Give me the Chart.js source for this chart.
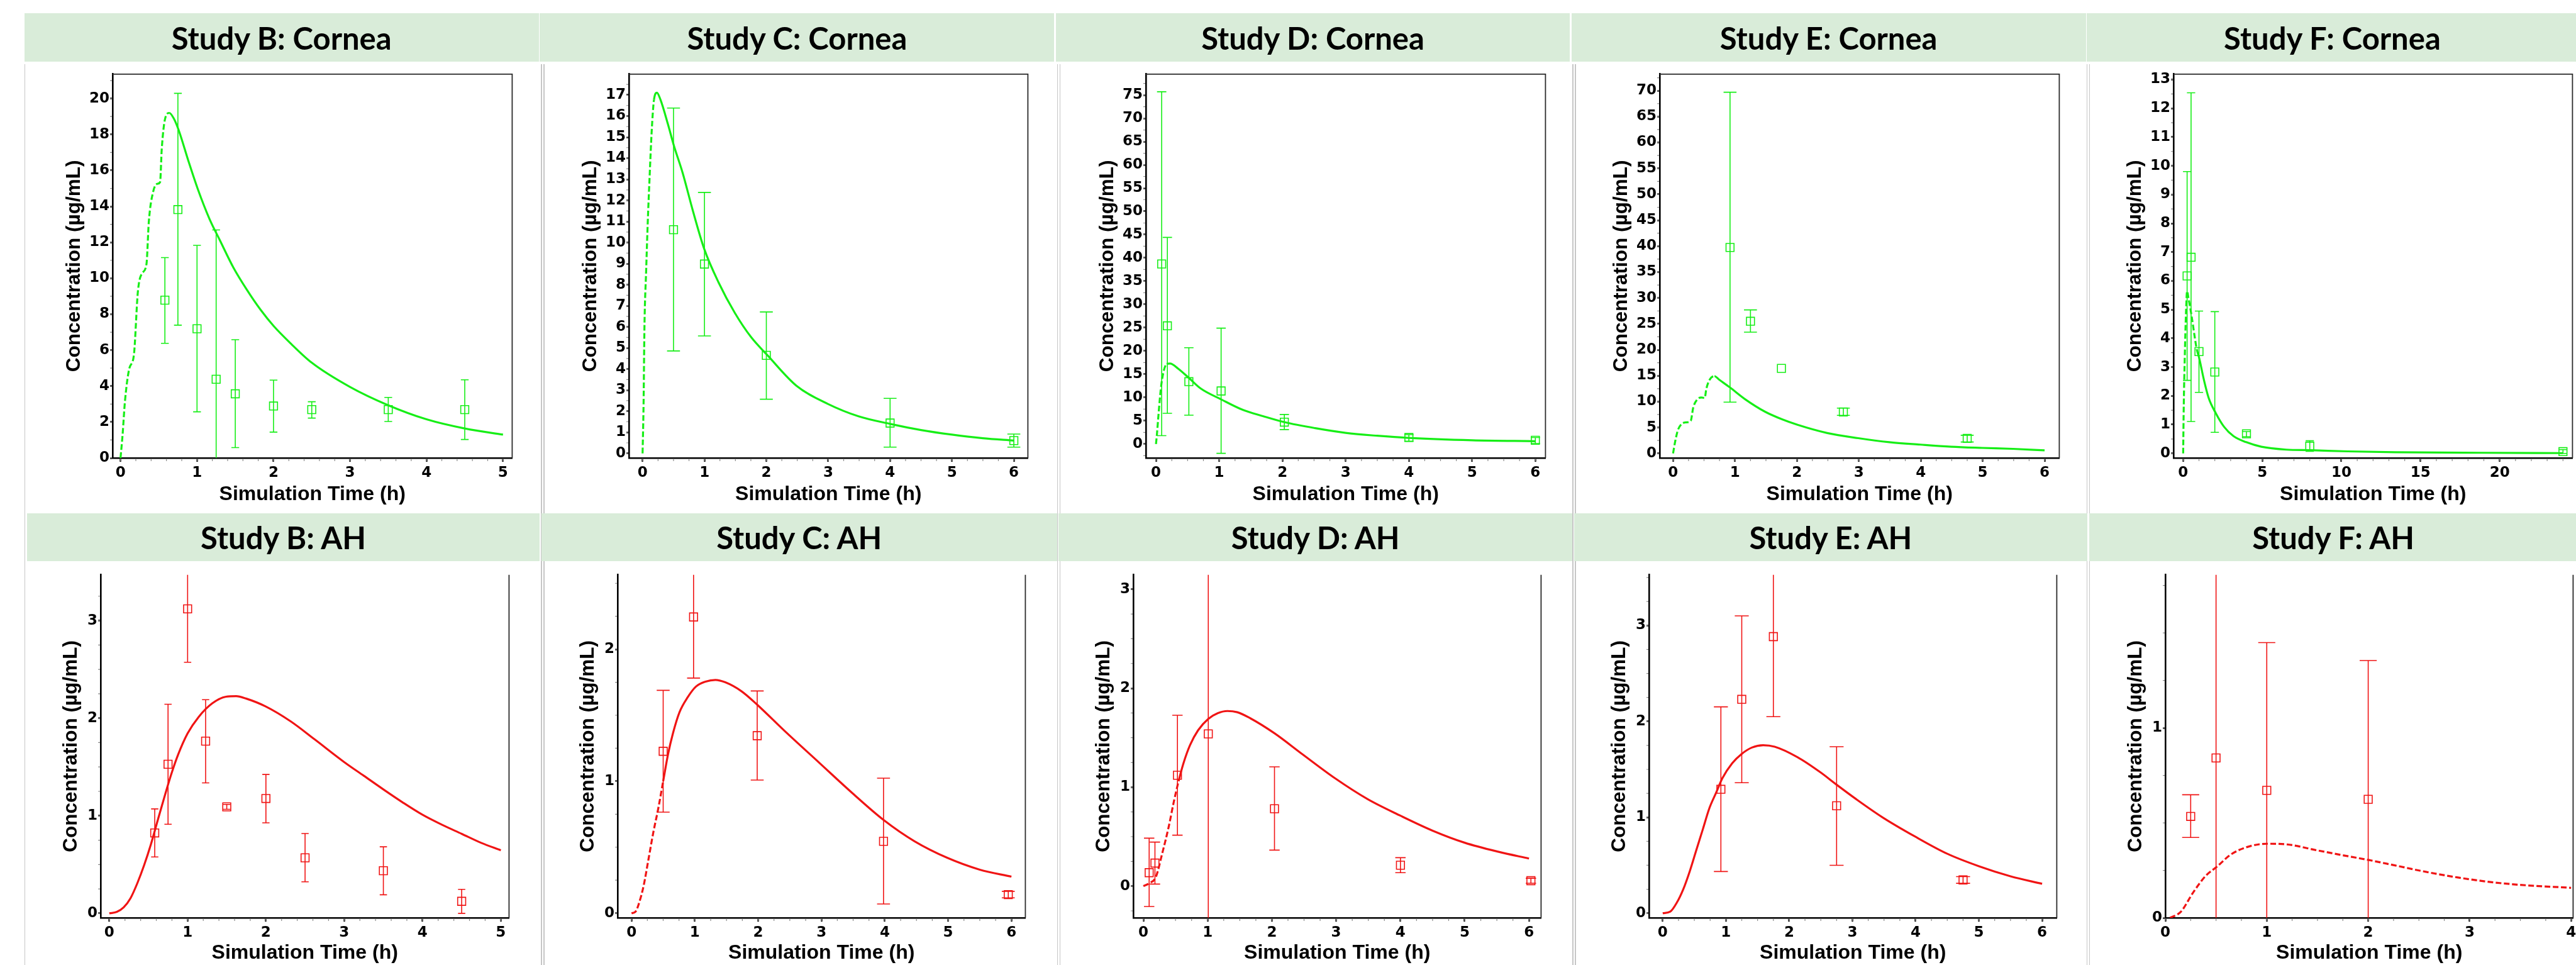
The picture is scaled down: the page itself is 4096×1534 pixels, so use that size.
<!DOCTYPE html>
<html>
<head>
<meta charset="utf-8">
<script src="https://cdn.jsdelivr.net/npm/chart.js@4.4.0/dist/chart.umd.min.js"></script>
<style>
  html, body { margin: 0; padding: 0; background: #fff; overflow: hidden; width: 4096px; height: 1534px; position: relative; }
  .banner { position: absolute; background: #d9ecd9; display: flex; align-items: center; justify-content: center;
            font-family: Lato, 'Open Sans', sans-serif; font-weight: 700; font-size: 49px; color: #000; z-index: 3; }
  .sep { position: absolute; width: 1.6px; background: #c6c6c6; z-index: 1; }
  canvas { position: absolute; z-index: 2; }
</style>
</head>
<body>
<script>
// ---------- data ----------
// tick labels
const hours5 = [0, 1, 2, 3, 4, 5];
const hours6 = [0, 1, 2, 3, 4, 5, 6];
const hours24 = [0, 5, 10, 15, 20];
const hours4 = [0, 1, 2, 3, 4];
const bCorYT = [0, 2, 4, 6, 8, 10, 12, 14, 16, 18, 20];
const cCorYT = [0, 1, 2, 3, 4, 5, 6, 7, 8, 9, 10, 11, 12, 13, 14, 15, 16, 17];
const dCorYT = [0, 5, 10, 15, 20, 25, 30, 35, 40, 45, 50, 55, 60, 65, 70, 75];
const eCorYT = [0, 5, 10, 15, 20, 25, 30, 35, 40, 45, 50, 55, 60, 65, 70];
const fCorYT = [0, 1, 2, 3, 4, 5, 6, 7, 8, 9, 10, 11, 12, 13];
const ahYT3 = [0, 1, 2, 3];
const ahYT2 = [0, 1, 2];
const ahYT1 = [0, 1];

// Study B cornea
const bCorT = [0.58, 0.75, 1.0, 1.25, 1.5, 2.0, 2.5, 3.5, 4.5];
const bCorC = [8.78, 13.82, 7.19, 4.38, 3.57, 2.89, 2.69, 2.69, 2.69];
const bCorLo = [6.38, 7.39, 2.57, -0.5, 0.58, 1.44, 2.22, 2.03, 1.03];
const bCorHi = [11.15, 20.29, 11.83, 12.69, 6.58, 4.33, 3.13, 3.37, 4.35];
const bCorSimT = [0, 0.027, 0.058, 0.116, 0.174, 0.227, 0.28, 0.339, 0.37, 0.428, 0.486, 0.517, 0.539, 0.584, 0.637, 0.695, 0.762, 0.887, 1.007, 1.163, 1.297, 1.475, 1.653, 1.83, 2.0, 2.23, 2.5, 3.0, 3.49, 4.0, 4.5, 5.0];
const bCorSimC = [0, 1.3, 3.16, 5.0, 5.7, 9.26, 10.27, 10.78, 13.15, 14.84, 15.26, 15.35, 17.2, 18.9, 19.2, 18.9, 18.22, 16.53, 15.0, 13.3, 12.13, 10.6, 9.35, 8.25, 7.35, 6.35, 5.3, 3.95, 2.95, 2.15, 1.64, 1.3];

// Study C cornea
const cCorT = [0.5, 1, 2, 4, 6];
const cCorC = [10.61, 8.98, 4.65, 1.44, 0.61];
const cCorLo = [4.86, 5.57, 2.57, 0.3, 0.3];
const cCorHi = [16.38, 12.38, 6.71, 2.61, 0.92];
const cCorSimT = [0, 0.016, 0.03, 0.058, 0.084, 0.11, 0.148, 0.184, 0.232, 0.29, 0.41, 0.506, 0.648, 0.807, 0.996, 1.228, 1.49, 1.755, 2.02, 2.49, 3.0, 3.49, 4.0, 4.5, 5.0, 5.5, 6.0];
const cCorSimC = [0, 2.34, 5.95, 8.69, 11.0, 12.87, 15.32, 16.77, 17.11, 16.77, 15.61, 14.6, 13.3, 11.57, 9.7, 8.11, 6.67, 5.51, 4.65, 3.2, 2.34, 1.76, 1.4, 1.11, 0.89, 0.72, 0.61];

// Study D cornea
const dCorT = [0.09, 0.18, 0.52, 1.03, 2.03, 4.0, 6.0];
const dCorC = [38.7, 25.4, 13.4, 11.4, 4.7, 1.4, 0.8];
const dCorLo = [1.8, 6.6, 6.2, -2.0, 3.1, 0.6, 0.1];
const dCorHi = [75.7, 44.4, 20.7, 24.9, 6.35, 2.0, 1.4];
const dCorSimT = [0, 0.015, 0.04, 0.077, 0.119, 0.17, 0.222, 0.35, 0.52, 0.71, 1.03, 1.38, 1.69, 2.03, 2.52, 3.0, 3.5, 4.0, 5.0, 6.0];
const dCorSimC = [0, 2.1, 6.35, 11.9, 15.5, 17.2, 17.3, 16.2, 14.2, 11.9, 9.6, 7.3, 6.0, 4.7, 3.4, 2.4, 1.77, 1.3, 0.8, 0.6];

// Study E cornea
const eCorT = [0.92, 1.25, 1.75, 2.75, 4.75];
const eCorC = [39.75, 25.5, 16.4, 8.0, 2.9];
const eCorLo = [9.9, 23.4, null, 7.34, 2.2];
const eCorHi = [69.7, 27.7, null, 8.75, 3.5];
const eCorSimT = [0, 0.037, 0.079, 0.142, 0.221, 0.285, 0.327, 0.39, 0.458, 0.511, 0.537, 0.59, 0.669, 0.748, 0.917, 1.17, 1.486, 1.76, 2.01, 2.49, 2.99, 3.49, 3.99, 4.49, 4.99, 5.49, 6.0];
const eCorSimC = [0, 2.47, 4.52, 5.7, 6.0, 6.28, 8.9, 10.4, 10.8, 10.7, 12.45, 14.2, 14.9, 14.2, 12.74, 10.4, 8.04, 6.58, 5.52, 3.93, 2.94, 2.17, 1.7, 1.29, 1.06, 0.88, 0.59];

// Study F cornea
const fCorT = [0.25, 0.5, 1, 2, 4, 8, 24];
const fCorC = [6.17, 6.82, 3.54, 2.83, 0.68, 0.25, 0.06];
const fCorLo = [2.54, 1.11, 2.12, 0.73, 0.58, 0.07, 0.0];
const fCorHi = [9.8, 12.54, 4.95, 4.93, 0.76, 0.44, 0.13];
const fCorSimT = [0, 0.04, 0.1, 0.18, 0.25, 0.33, 0.53, 0.73, 0.86, 1.02, 1.31, 1.61, 2.06, 2.59, 3.18, 3.98, 4.94, 6.51, 8.04, 10.4, 13.4, 18.9, 24];
const fCorSimC = [0, 1.72, 3.3, 4.9, 5.64, 5.42, 4.79, 4.05, 3.62, 3.3, 2.56, 1.93, 1.4, 0.92, 0.6, 0.39, 0.23, 0.13, 0.11, 0.07, 0.04, 0.02, 0.01];

// Study B aqueous humor
const bAhT = [0.58, 0.75, 1.0, 1.23, 1.5, 2.0, 2.5, 3.5, 4.5];
const bAhC = [0.824, 1.528, 3.12, 1.765, 1.091, 1.177, 0.569, 0.437, 0.123];
const bAhLo = [0.578, 0.913, 2.573, 1.337, 1.066, 0.928, 0.323, 0.19, 0.0];
const bAhHi = [1.07, 2.143, 3.8, 2.19, 1.116, 1.423, 0.818, 0.682, 0.246];
const bAhSimT = [0, 0.096, 0.183, 0.27, 0.357, 0.444, 0.531, 0.618, 0.706, 0.793, 0.88, 1.0, 1.141, 1.315, 1.49, 1.62, 1.751, 1.995, 2.317, 2.622, 3.0, 3.25, 3.5, 3.75, 4.0, 4.25, 4.5, 4.75, 5.0];
const bAhSimC = [0, 0.015, 0.061, 0.154, 0.307, 0.492, 0.707, 0.953, 1.199, 1.43, 1.629, 1.844, 2.013, 2.152, 2.22, 2.226, 2.2, 2.121, 1.967, 1.783, 1.55, 1.41, 1.27, 1.135, 1.01, 0.907, 0.815, 0.722, 0.646];

// Study C aqueous humor
const cAhT = [0.5, 0.98, 1.985, 3.98, 5.95];
const cAhC = [1.227, 2.245, 1.345, 0.545, 0.141];
const cAhLo = [0.766, 1.782, 1.009, 0.07, 0.116];
const cAhHi = [1.689, 2.7, 1.684, 1.023, 0.166];
const cAhSimT = [0, 0.062, 0.113, 0.19, 0.268, 0.345, 0.423, 0.5, 0.577, 0.655, 0.758, 0.887, 1.015, 1.17, 1.325, 1.48, 1.737, 1.985, 2.407, 2.974, 3.49, 3.985, 4.47, 4.985, 5.5, 6.0];
const cAhSimC = [0, 0.011, 0.068, 0.205, 0.409, 0.614, 0.795, 1.0, 1.205, 1.364, 1.523, 1.636, 1.716, 1.755, 1.768, 1.75, 1.682, 1.58, 1.386, 1.136, 0.909, 0.705, 0.545, 0.42, 0.33, 0.277];

// Study D aqueous humor
const dAhT = [0.09, 0.18, 0.53, 1.01, 2.04, 4.0, 6.03];
const dAhC = [0.136, 0.233, 1.121, 1.539, 0.782, 0.212, 0.055];
const dAhLo = [-0.206, 0.021, 0.515, -0.5, 0.364, 0.136, 0.03];
const dAhHi = [0.485, 0.445, 1.727, 3.4, 1.206, 0.288, 0.08];
const dAhSimT = [0, 0.091, 0.193, 0.294, 0.396, 0.472, 0.548, 0.624, 0.725, 0.852, 1.01, 1.156, 1.308, 1.46, 1.663, 2.04, 2.475, 2.98, 3.49, 4.0, 4.5, 5.0, 5.52, 6.0];
const dAhSimC = [0, 0.03, 0.091, 0.333, 0.606, 0.848, 1.061, 1.242, 1.424, 1.576, 1.691, 1.748, 1.77, 1.758, 1.697, 1.545, 1.333, 1.091, 0.879, 0.712, 0.561, 0.439, 0.348, 0.279];

// Study E aqueous humor
const eAhT = [0.92, 1.25, 1.75, 2.75, 4.75];
const eAhC = [1.292, 2.23, 2.884, 1.12, 0.347];
const eAhLo = [0.435, 1.361, 2.049, 0.5, 0.312];
const eAhHi = [2.152, 3.1, 3.8, 1.736, 0.382];
const eAhSimT = [0, 0.119, 0.222, 0.325, 0.428, 0.531, 0.635, 0.738, 0.841, 0.944, 1.099, 1.243, 1.409, 1.589, 1.77, 2.131, 2.492, 2.74, 3.06, 3.473, 3.989, 4.5, 5.0, 5.5, 6.0];
const eAhSimC = [0, 0.016, 0.109, 0.25, 0.438, 0.657, 0.876, 1.095, 1.251, 1.408, 1.564, 1.658, 1.727, 1.752, 1.736, 1.627, 1.47, 1.345, 1.189, 1.001, 0.8, 0.62, 0.49, 0.385, 0.307];

// Study F aqueous humor
const fAhT = [0.25, 0.5, 1, 2];
const fAhC = [0.534, 0.842, 0.671, 0.624];
const fAhLo = [0.423, -0.05, -0.05, -0.05];
const fAhHi = [0.648, 2.0, 1.449, 1.355];
const fAhSimT = [0.046, 0.153, 0.275, 0.398, 0.508, 0.642, 0.795, 1.0, 1.19, 1.5, 1.804, 2.0, 2.263, 2.569, 2.875, 3.18, 3.486, 4.0];
const fAhSimC = [0, 0.032, 0.134, 0.221, 0.269, 0.332, 0.371, 0.39, 0.387, 0.355, 0.324, 0.305, 0.276, 0.242, 0.213, 0.19, 0.174, 0.158];

// ---------- layout (reference pixels, scaled by S) ----------
const S = 0.823;
const GREEN = '#16ee16';
const RED = '#f01414';
const ROWS = [
  { top: 129, bottom: 885, yW: 80, xH: 77, padT: 3, frameTop: true },
  { top: 1092, bottom: 1773, yW: 66, xH: 75, padT: 0, frameTop: false }
];
const BANNERS = [
  { y: [26, 119], x: [[47, 1041], [1043, 2037], [2040, 3033], [3036, 4030], [4032, 4980]] },
  { y: [991, 1084], x: [[52, 1043], [1046, 2042], [2045, 3038], [3041, 4033], [4036, 4980]] }
];
const SEPS = [47, 1045, 1050, 2042, 2047, 3038, 3043, 4031, 4036];

const panels = [
  { title: 'Study B: Cornea', row: 0, fl: 217, fr: 998, xr: [-0.104, 5.12], yr: [0, 21.36], xt: hours5, yt: bCorYT, mx: 0.2, my: 1, cap: 7.5, color: GREEN, dash: 0.64, obs: [bCorT, bCorC, bCorLo, bCorHi], sim: [bCorSimT, bCorSimC] },
  { title: 'Study C: Cornea', row: 0, fl: 1215, fr: 1995, xr: [-0.221, 6.227], yr: [-0.216, 17.99], xt: hours6, yt: cCorYT, mx: 0.25, my: 0.5, cap: 12.5, color: GREEN, dash: 0.23, obs: [cCorT, cCorC, cCorLo, cCorHi], sim: [cCorSimT, cCorSimC] },
  { title: 'Study D: Cornea', row: 0, fl: 2214, fr: 2995, xr: [-0.16, 6.16], yr: [-3.0, 79.5], xt: hours6, yt: dCorYT, mx: 0.25, my: 2.5, cap: 9, color: GREEN, dash: 0.2, obs: [dCorT, dCorC, dCorLo, dCorHi], sim: [dCorSimT, dCorSimC] },
  { title: 'Study E: Cornea', row: 0, fl: 3207, fr: 3988, xr: [-0.216, 6.237], yr: [-0.88, 73.2], xt: hours6, yt: eCorYT, mx: 0.25, my: 2.5, cap: 12.5, color: GREEN, dash: 0.67, obs: [eCorT, eCorC, eCorLo, eCorHi], sim: [eCorSimT, eCorSimC] },
  { title: 'Study F: Cornea', row: 0, fl: 4199, fr: 4979, xr: [-0.61, 24.6], yr: [-0.16, 13.19], xt: hours24, yt: fCorYT, mx: 1, my: 0.5, cap: 8, color: GREEN, dash: 0.9, obs: [fCorT, fCorC, fCorLo, fCorHi], sim: [fCorSimT, fCorSimC] },
  { title: 'Study B: AH', row: 1, fl: 195, fr: 993, xr: [-0.111, 5.105], yr: [-0.046, 3.469], xt: hours5, yt: ahYT3, mx: 0.2, my: 0.25, cap: 7, color: RED, dash: -1, obs: [bAhT, bAhC, bAhLo, bAhHi], sim: [bAhSimT, bAhSimC] },
  { title: 'Study C: AH', row: 1, fl: 1193, fr: 1990, xr: [-0.22, 6.22], yr: [-0.035, 2.564], xt: hours6, yt: ahYT2, mx: 0.25, my: 0.25, cap: 12.5, color: RED, dash: 0.55, obs: [cAhT, cAhC, cAhLo, cAhHi], sim: [cAhSimT, cAhSimC] },
  { title: 'Study D: AH', row: 1, fl: 2189, fr: 2986, xr: [-0.157, 6.188], yr: [-0.32, 3.146], xt: hours6, yt: ahYT3, mx: 0.25, my: 0.25, cap: 10, color: RED, dash: 0.55, obs: [dAhT, dAhC, dAhLo, dAhHi], sim: [dAhSimT, dAhSimC] },
  { title: 'Study E: AH', row: 1, fl: 3186, fr: 3983, xr: [-0.217, 6.232], yr: [-0.048, 3.528], xt: hours6, yt: ahYT3, mx: 0.25, my: 0.25, cap: 13.5, color: RED, dash: -1, obs: [eAhT, eAhC, eAhLo, eAhHi], sim: [eAhSimT, eAhSimC] },
  { title: 'Study F: AH', row: 1, fl: 4183, fr: 4980, xr: [0, 4.02], yr: [0, 1.806], xt: hours4, yt: ahYT1, mx: 0.25, my: 0.25, cap: 16.5, color: RED, dash: 99, obs: [fAhT, fAhC, fAhLo, fAhHi], sim: [fAhSimT, fAhSimC] }
];

// ---------- plugins ----------
const errorBars = {
  id: 'errorBars',
  afterDatasetsDraw(chart, args, o) {
    const ds = chart.data.datasets[1];
    const xs = chart.scales.x, ys = chart.scales.y, a = chart.chartArea, ctx = chart.ctx;
    ctx.save();
    ctx.beginPath();
    ctx.rect(a.left, a.top, a.right - a.left, a.bottom - a.top);
    ctx.clip();
    ctx.strokeStyle = ds.pointBorderColor;
    ctx.lineWidth = 1.6;
    ds.data.forEach(p => {
      if (p.lo == null) return;
      const x = xs.getPixelForValue(p.x);
      const t = ys.getPixelForValue(p.hi), b = ys.getPixelForValue(p.lo);
      ctx.beginPath();
      ctx.moveTo(x, t); ctx.lineTo(x, b);
      ctx.moveTo(x - o.cap, t); ctx.lineTo(x + o.cap, t);
      ctx.moveTo(x - o.cap, b); ctx.lineTo(x + o.cap, b);
      ctx.stroke();
    });
    ctx.restore();
  }
};

const frame = {
  id: 'frame',
  afterDraw(chart, args, o) {
    const a = chart.chartArea, ctx = chart.ctx;
    const xs = chart.scales.x, ys = chart.scales.y;
    ctx.save();
    // minor ticks
    ctx.strokeStyle = '#8a8a8a';
    ctx.lineWidth = 1.2;
    ctx.beginPath();
    for (let i = Math.ceil(xs.min / o.mx); i * o.mx <= xs.max; i++) {
      const x = xs.getPixelForValue(i * o.mx);
      ctx.moveTo(x, a.bottom + 1); ctx.lineTo(x, a.bottom + 5);
    }
    for (let i = Math.ceil(ys.min / o.my); i * o.my <= ys.max; i++) {
      const y = ys.getPixelForValue(i * o.my);
      ctx.moveTo(a.left - 1, y); ctx.lineTo(a.left - 4, y);
    }
    ctx.stroke();
    // box
    ctx.strokeStyle = '#2a2a2a';
    ctx.lineWidth = 1.8;
    ctx.beginPath();
    if (o.top) {
      ctx.moveTo(a.left, a.top); ctx.lineTo(a.right, a.top); ctx.lineTo(a.right, a.bottom);
    } else {
      ctx.moveTo(a.right, a.top); ctx.lineTo(a.right, a.bottom);
    }
    ctx.stroke();
    ctx.restore();
  }
};

// ---------- page furniture ----------
BANNERS.forEach((row, r) => {
  row.x.forEach((xx, c) => {
    const d = document.createElement('div');
    d.className = 'banner';
    d.style.left = (xx[0] * S) + 'px';
    d.style.width = ((xx[1] - xx[0]) * S) + 'px';
    d.style.top = (row.y[0] * S) + 'px';
    d.style.height = ((row.y[1] - row.y[0]) * S) + 'px';
    d.textContent = panels[r * 5 + c].title;
    document.body.appendChild(d);
  });
});
SEPS.forEach(x => {
  const d = document.createElement('div');
  d.className = 'sep';
  d.style.left = (x * S) + 'px';
  d.style.top = (124 * S) + 'px';
  d.style.height = (1534 - 124 * S) + 'px';
  document.body.appendChild(d);
});

// ---------- charts ----------
const tickFont = { family: "'DejaVu Sans', sans-serif", weight: 'bold', size: 23 };
const titleFont = { family: "'Liberation Sans', Arial, sans-serif", weight: 'bold', size: 32 };

panels.forEach(p => {
  const r = ROWS[p.row];
  const padR = 3;
  const left = Math.round(p.fl * S - r.yW);
  const top = Math.round(r.top * S - r.padT);
  const w = Math.round(r.yW + (p.fr - p.fl) * S + padR);
  const h = Math.round(r.padT + (r.bottom - r.top) * S + r.xH);
  const cv = document.createElement('canvas');
  cv.width = w; cv.height = h;
  cv.style.left = left + 'px';
  cv.style.top = top + 'px';
  document.body.appendChild(cv);

  const [t, c, lo, hi] = p.obs;
  const [st, sc] = p.sim;
  const dashed = [9, 4];

  new Chart(cv, {
    type: 'scatter',
    data: {
      datasets: [
        {
          data: st.map((x, i) => ({ x: x, y: sc[i] })),
          showLine: true,
          borderColor: p.color,
          borderWidth: 3.2,
          pointRadius: 0,
          cubicInterpolationMode: 'monotone',
          segment: { borderDash: ctx => (ctx.p1.parsed.x <= p.dash + 1e-9 ? dashed : undefined) }
        },
        {
          data: t.map((x, i) => ({ x: x, y: c[i], lo: lo[i], hi: hi[i] })),
          showLine: false,
          pointStyle: 'rect',
          pointRadius: 9,
          pointBorderWidth: 1.6,
          pointBorderColor: p.color,
          pointBackgroundColor: 'rgba(0,0,0,0)',
          borderColor: p.color
        }
      ]
    },
    options: {
      responsive: false,
      animation: false,
      events: [],
      layout: { padding: { top: r.padT, right: padR, left: 0, bottom: 0 } },
      plugins: {
        legend: { display: false },
        tooltip: { enabled: false },
        errorBars: { cap: p.cap * S },
        frame: { top: r.frameTop, mx: p.mx, my: p.my }
      },
      scales: {
        x: {
          type: 'linear',
          min: p.xr[0], max: p.xr[1],
          afterBuildTicks: s => { s.ticks = p.xt.map(v => ({ value: v })); },
          afterFit: s => { s.height = r.xH; },
          grid: { drawOnChartArea: false, drawTicks: true, tickLength: 6, tickWidth: 2.4, tickColor: '#000' },
          border: { display: true, color: '#000', width: 2.6 },
          ticks: { font: tickFont, color: '#000', padding: 4, maxRotation: 0, autoSkip: false },
          title: { display: true, text: 'Simulation Time (h)', font: titleFont, color: '#000', padding: 0 }
        },
        y: {
          type: 'linear',
          min: p.yr[0], max: p.yr[1],
          afterBuildTicks: s => { s.ticks = p.yt.map(v => ({ value: v })); },
          afterFit: s => { s.width = r.yW; },
          grid: { drawOnChartArea: false, drawTicks: true, tickLength: 4, tickWidth: 2.4, tickColor: '#000' },
          border: { display: true, color: '#000', width: 2.6 },
          ticks: { font: tickFont, color: '#000', padding: 1, autoSkip: false },
          title: { display: true, text: 'Concentration (µg/mL)', font: { family: titleFont.family, weight: 'bold', size: 31.5 }, color: '#000', padding: 0 }
        }
      }
    },
    plugins: [errorBars, frame]
  });
});
</script>
</body>
</html>
